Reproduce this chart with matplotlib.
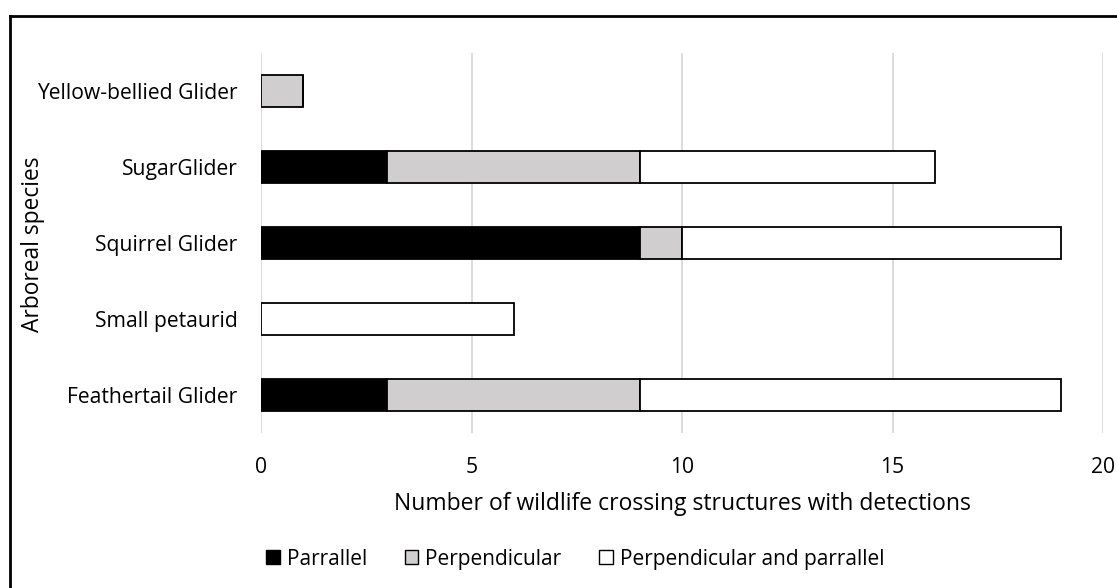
import matplotlib
matplotlib.use("Agg")
import matplotlib.pyplot as plt
from matplotlib.lines import Line2D
import numpy as np

plt.rcParams['font.family'] = ['Open Sans', 'DejaVu Sans']

# Detections per species, split by structure orientation
species = ["Feathertail Glider", "Small petaurid", "Squirrel Glider", "SugarGlider", "Yellow-bellied Glider"]
parrallel = [3, 0, 9, 3, 0]
perpendicular = [6, 0, 1, 6, 1]
both = [10, 6, 9, 7, 0]

series_names = ["Parrallel", "Perpendicular", "Perpendicular and parrallel"]
colors = ["#000000", "#d0cece", "#ffffff"]

fig = plt.figure(figsize=(11.17, 5.88), dpi=100)
ax = fig.add_axes([0.2337, 0.2636, 0.7538, 0.6463])

y = np.arange(len(species))
left = np.zeros(len(species))
for vals, name, c in zip([parrallel, perpendicular, both], series_names, colors):
    vals = np.array(vals, dtype=float)
    ax.barh(y, vals, left=left, height=0.42, color=c, edgecolor="black",
            linewidth=1.3, label=name, zorder=3)
    left += vals

ax.set_xlim(0, 20)
ax.set_ylim(-0.5, len(species) - 0.5)
ax.set_xticks([0, 5, 10, 15, 20])
ax.set_yticks(y)
ax.set_yticklabels(species)
ax.tick_params(axis="both", length=0, labelsize=15.2, colors="black")
ax.tick_params(axis="x", pad=17)
ax.tick_params(axis="y", pad=17)
ax.grid(axis="x", color="#d9d9d9", linewidth=1.3, zorder=0)
for s in ax.spines.values():
    s.set_visible(False)

ax.set_xlabel("Number of wildlife crossing structures with detections", fontsize=16.5, labelpad=10.5)
fig.text(0.0295, 0.585, "Arboreal species", rotation=90, fontsize=16.4, ha="center", va="center")

handles = [plt.Rectangle((0, 0), 1, 1, facecolor=c, edgecolor="black", linewidth=1.0) for c in colors]
fig.legend(handles, series_names, loc="center", bbox_to_anchor=(0.515, 0.049), ncol=3,
           frameon=False, fontsize=15, handlelength=0.65, handleheight=0.65,
           handletextpad=0.35, columnspacing=1.8)

# Outer frame
fig.add_artist(Line2D([10 / 1117, 1.0], [1 - 16 / 588, 1 - 16 / 588], color="black", linewidth=2,
                      transform=fig.transFigure))
fig.add_artist(Line2D([10 / 1117, 10 / 1117], [0.0, 1 - 16 / 588], color="black", linewidth=2,
                      transform=fig.transFigure))

fig.savefig("out.png", dpi=100)
